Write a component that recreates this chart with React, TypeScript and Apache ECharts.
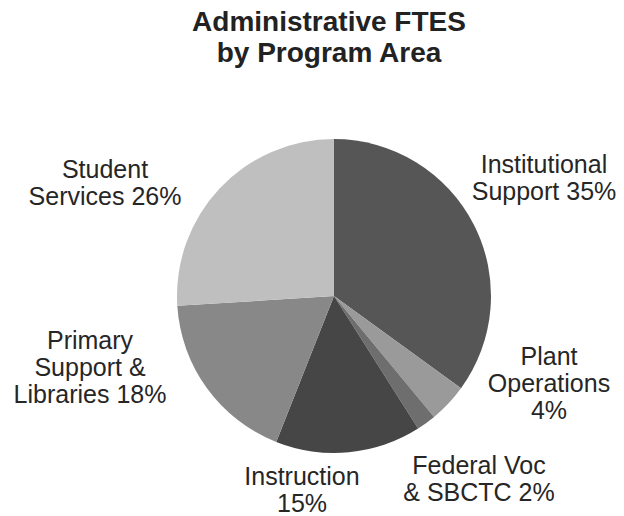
import React, { useEffect, useRef } from "react";
import * as echarts from "echarts";

const titleLines = ["Administrative FTES", "by Program Area"];
const categories = [
  "Institutional\nSupport",
  "Plant\nOperations",
  "Federal Voc\n& SBCTC",
  "Instruction",
  "Primary\nSupport &\nLibraries",
  "Student\nServices",
];
const values = [35, 4, 2, 15, 18, 26];
const separators = [" ", "\n", " ", "\n", " ", " "];
const colors = ["#565656", "#9a9a9a", "#6e6e6e", "#464646", "#888888", "#bfbfbf"];
// label block centres (layout only)
const labelPos: [number, number][] = [
  [544, 177],
  [549, 383],
  [479, 478],
  [302, 489],
  [90, 367],
  [105, 182],
];

export default function App() {
  const ref = useRef<HTMLDivElement>(null);
  useEffect(() => {
    document.body.style.margin = "0";
    const chart = echarts.init(ref.current!, undefined, { renderer: "svg" });
    chart.setOption({
      animation: false,
      backgroundColor: "#ffffff",
      title: {
        text: titleLines.join("\n"),
        left: 329,
        top: 6,
        padding: 0,
        textAlign: "center",
        textStyle: {
          fontFamily: "Liberation Sans, Arial, sans-serif",
          fontWeight: "bold",
          fontSize: 28,
          lineHeight: 31,
          color: "#222222",
        },
      },
      series: [
        {
          type: "pie",
          center: [334, 296],
          radius: 157,
          startAngle: 90,
          clockwise: true,
          data: categories.map((name, i) => ({
            name,
            value: values[i],
            itemStyle: { color: colors[i] },
          })),
          itemStyle: { borderWidth: 0 },
          emphasis: { disabled: true },
          label: {
            show: true,
            position: "outside",
            overflow: "none",
            formatter: (p: any) => `${p.name}${separators[p.dataIndex]}${p.value}%`,
            fontFamily: "Liberation Sans, Arial, sans-serif",
            fontSize: 25,
            lineHeight: 27,
            color: "#262626",
            align: "center",
          },
          labelLine: { show: false },
          labelLayout: (params: any) => ({
            x: labelPos[params.dataIndex][0],
            y: labelPos[params.dataIndex][1],
            align: "center",
            verticalAlign: "middle",
          }),
        },
      ],
    });
    return () => chart.dispose();
  }, []);
  return <div ref={ref} style={{ width: 624, height: 516 }} />;
}
